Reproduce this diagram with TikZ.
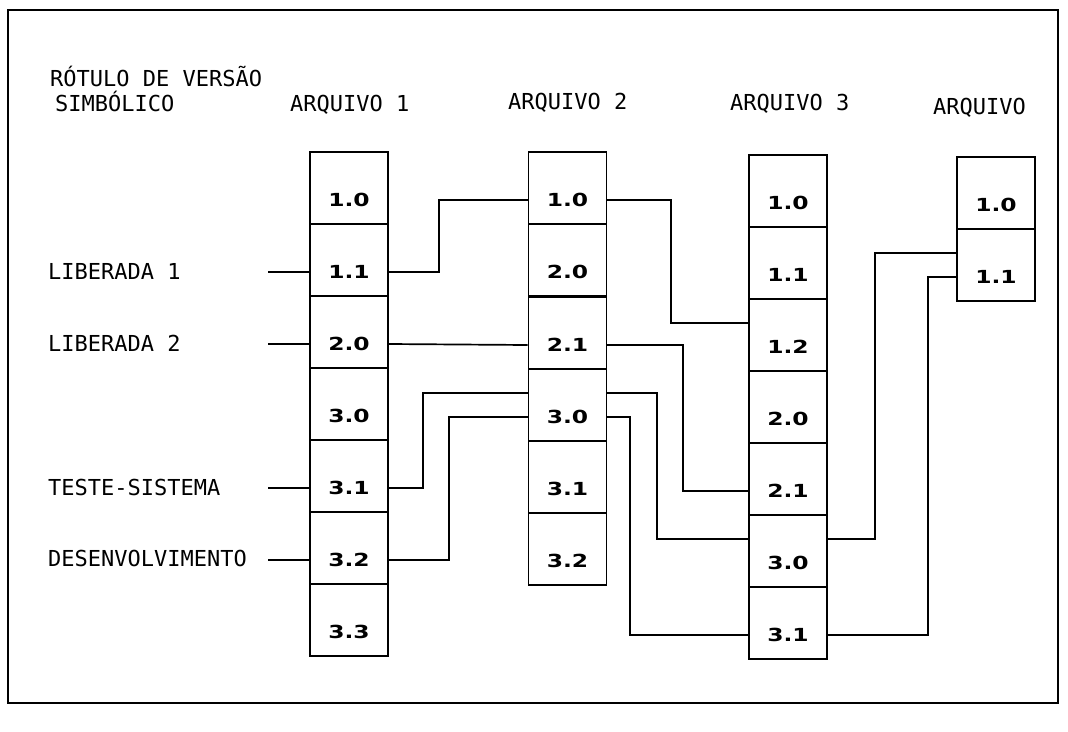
\documentclass[tikz,border=0pt]{standalone}
\usepackage{fontspec}
\newfontfamily\lblfont{DejaVu Sans Mono}
\newfontfamily\numfont[FakeStretch=1.3]{DejaVu Sans}
\begin{document}
\begin{tikzpicture}[x=1pt,y=-1pt,
  cell/.style={draw, line width=1.8pt, rectangle, minimum width=78pt, minimum height=72pt,
    inner sep=0pt, text height=37pt, text depth=0pt,
    font=\numfont\bfseries\fontsize{18pt}{20pt}\selectfont},
  lbl/.style={anchor=base west, inner sep=0pt, font=\lblfont\fontsize{22pt}{24pt}\selectfont},
  conn/.style={line width=1.7pt, line join=miter},
  frame/.style={line width=2.2pt}]
\useasboundingbox (0,0) rectangle (1068,731);
\draw[frame] (8,10) rectangle (1058,703);

% headers
\node[lbl] (h0a) at (50,86) {RÓTULO DE VERSÃO};
\node[lbl] (h0b) at (55,111) {SIMBÓLICO};
\node[lbl] (h1) at (290,111) {ARQUIVO 1};
\node[lbl] (h2) at (508,109) {ARQUIVO 2};
\node[lbl] (h3) at (730,110) {ARQUIVO 3};
\node[lbl] (h4) at (933,114) {ARQUIVO};

% left labels
\node[lbl] (t1) at (48,279) {LIBERADA 1};
\node[lbl] (t2) at (48,351) {LIBERADA 2};
\node[lbl] (t3) at (48,495) {TESTE-SISTEMA};
\node[lbl] (t4) at (48,566) {DESENVOLVIMENTO};

% Arquivo 1
\node[cell] (A10) at (349,188) {1.0};
\node[cell] (A11) at (349,260) {1.1};
\node[cell] (A20) at (349,332) {2.0};
\node[cell] (A30) at (349,404) {3.0};
\node[cell] (A31) at (349,476) {3.1};
\node[cell] (A32) at (349,548) {3.2};
\node[cell] (A33) at (349,620) {3.3};

% Arquivo 2
\node[cell] (B10) at (567.5,188) {1.0};
\node[cell] (B20) at (567.5,260) {2.0};
\node[cell] (B21) at (567.5,333) {2.1};
\node[cell] (B30) at (567.5,405) {3.0};
\node[cell] (B31) at (567.5,477) {3.1};
\node[cell] (B32) at (567.5,549) {3.2};

% Arquivo 3
\node[cell] (C10) at (788,191) {1.0};
\node[cell] (C11) at (788,263) {1.1};
\node[cell] (C12) at (788,335) {1.2};
\node[cell] (C20) at (788,407) {2.0};
\node[cell] (C21) at (788,479) {2.1};
\node[cell] (C30) at (788,551) {3.0};
\node[cell] (C31) at (788,623) {3.1};

% Arquivo (4)
\node[cell] (D10) at (996,193) {1.0};
\node[cell] (D11) at (996,265) {1.1};

% label leader lines
\coordinate (L1) at (268,272);
\coordinate (L2) at (268,344);
\coordinate (L3) at (268,488);
\coordinate (L4) at (268,560);
\draw[conn] (L1) -- (L1 -| A11.west);
\draw[conn] (L2) -- (L2 -| A20.west);
\draw[conn] (L3) -- (L3 -| A31.west);
\draw[conn] (L4) -- (L4 -| A32.west);

% connectors
\draw[conn] ([yshift=-12pt]A11.east) -- ++(50,0) |- ([yshift=-12pt]B10.west);
\draw[conn] ([yshift=-12pt]A20.east) -- ([yshift=-12pt]B21.west);
\draw[conn] ([yshift=-12pt]A31.east) -- ++(34,0) |- ([yshift=12pt]B30.west);
\draw[conn] ([yshift=-12pt]A32.east) -- ++(60,0) |- ([yshift=-12pt]B30.west);

\draw[conn] ([yshift=-12pt]B10.east) -- ++(63.5,0) |- ([yshift=12pt]C12.west);
\draw[conn] ([yshift=-12pt]B21.east) -- ++(75.5,0) |- ([yshift=-12pt]C21.west);
\draw[conn] ([yshift=12pt]B30.east) -- ++(49.5,0) |- ([yshift=12pt]C30.west);
\draw[conn] ([yshift=-12pt]B30.east) -- ++(22.5,0) |- ([yshift=-12pt]C31.west);

\draw[conn] ([yshift=12pt]C30.east) -- ++(47,0) |- ([yshift=12pt]D11.west);
\draw[conn] ([yshift=-12pt]C31.east) -- ++(100,0) |- ([yshift=-12pt]D11.west);
\end{tikzpicture}
\end{document}
